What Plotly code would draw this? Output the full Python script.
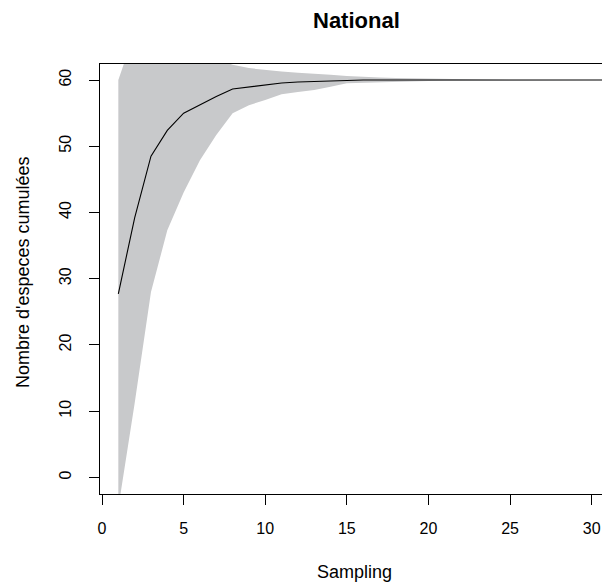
import plotly.graph_objects as go

# Data
sampling = list(range(1, 32))
mean_species = [27.7, 39.2, 48.5, 52.4, 55.0, 56.3, 57.5, 58.65, 58.95, 59.15,
                59.55, 59.7, 59.8, 59.9, 60.0, 60.0, 60.0, 60.0, 60.0, 60.0,
                60.0, 60.0, 60.0, 60.0, 60.0, 60.0, 60.0, 60.0, 60.0, 60.0, 60.0]
lower_band = [-4.6, 11.2, 28.0, 37.3, 43.0, 47.9, 51.7, 55.0, 56.2, 57.0,
              57.85, 58.2, 58.5, 59.0, 59.5, 59.6, 59.7, 59.75, 59.8, 59.85,
              59.9, 59.93, 59.96, 59.98, 60.0, 60.0, 60.0, 60.0, 60.0, 60.0, 60.0]
upper_band = [60.0, 67.2, 69.0, 67.5, 67.0, 64.7, 63.3, 62.3, 61.8, 61.5,
              61.3, 61.1, 61.0, 60.8, 60.6, 60.45, 60.4, 60.3, 60.25, 60.15,
              60.1, 60.07, 60.04, 60.02, 60.0, 60.0, 60.0, 60.0, 60.0, 60.0, 60.0]
x_ticks = [0, 5, 10, 15, 20, 25, 30]
y_ticks = [0, 10, 20, 30, 40, 50, 60]

W, H = 602, 587
L, R, T, B = 100, 0, 64, 93
PW, PH = W - L - R, H - T - B

def px(xp):
    return (xp - L) / PW

def py(yp):
    return (H - B - yp) / PH

fig = go.Figure()
fig.add_trace(go.Scatter(
    x=sampling + sampling[::-1],
    y=upper_band + lower_band[::-1],
    fill="toself", fillcolor="#C8C9CB",
    line=dict(width=0, color="rgba(0,0,0,0)"),
    mode="lines", hoverinfo="skip", showlegend=False))
fig.add_trace(go.Scatter(
    x=sampling, y=mean_species, mode="lines",
    line=dict(color="black", width=1.1), showlegend=False))

font = "Liberation Sans, Arial, sans-serif"
fig.update_layout(
    width=W, height=H,
    margin=dict(l=L, r=R, t=T, b=B, pad=0),
    plot_bgcolor="white", paper_bgcolor="white",
    font=dict(family=font, color="black", size=16),
    xaxis=dict(range=[-0.123, 30.63], tickvals=x_ticks, ticks="outside",
               ticklen=10, tickcolor="black", showline=True, mirror=True,
               linecolor="black", linewidth=1, showgrid=False, zeroline=False,
               tickfont=dict(size=16), ticklabelstandoff=10),
    yaxis=dict(range=[-2.51, 62.42], tickvals=y_ticks, ticks="outside",
               ticklen=10, tickcolor="black", showline=True, mirror=False,
               linecolor="black", linewidth=1, showgrid=False, zeroline=False,
               tickangle=-90, tickfont=dict(size=16), ticklabelstandoff=12),
    annotations=[
        dict(text="<b>National</b>", x=px(356), y=py(20), xref="paper", yref="paper",
             showarrow=False, font=dict(size=22), xanchor="center", yanchor="middle"),
        dict(text="Sampling", x=px(354.5), y=py(572), xref="paper", yref="paper",
             showarrow=False, font=dict(size=18), xanchor="center", yanchor="middle"),
        dict(text="Nombre d'especes cumulées", x=px(23), y=py(272), xref="paper",
             yref="paper", showarrow=False, font=dict(size=18), textangle=-90,
             xanchor="center", yanchor="middle"),
    ],
)

fig.write_html("out.html", config={"displayModeBar": False},
               post_script="document.body.style.margin='0';document.body.style.overflow='hidden';")
